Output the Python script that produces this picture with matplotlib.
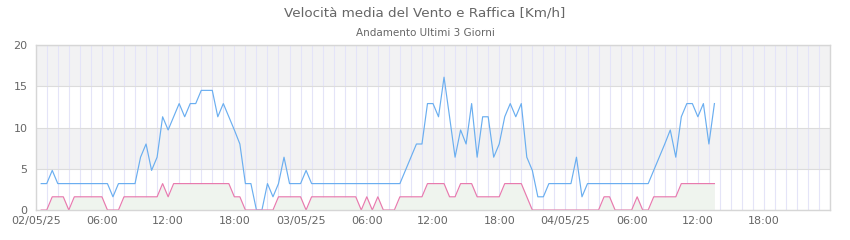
import matplotlib
matplotlib.use('Agg')
import matplotlib.pyplot as plt
import matplotlib.dates as mdates
import pandas as pd

# ========================== DATA ==========================
START = '2025-05-02 00:30'   # first sample, one every 30 minutes

# Raffica (gust) km/h
RAFFICA = [
    3.2, 3.2, 4.8, 3.2, 3.2, 3.2, 3.2, 3.2, 3.2, 3.2, 3.2, 3.2, 3.2, 1.6,
    3.2, 3.2, 3.2, 3.2, 6.4, 8.0, 4.8, 6.4, 11.3, 9.7, 11.3, 12.9, 11.3,
    12.9, 12.9, 14.5, 14.5, 14.5, 11.3, 12.9, 11.3, 9.7, 8.0, 3.2, 3.2,
    0.0, 0.0, 3.2, 1.6, 3.2, 6.4, 3.2, 3.2, 3.2, 4.8, 3.2,
    3.2, 3.2, 3.2, 3.2, 3.2, 3.2, 3.2, 3.2, 3.2, 3.2, 3.2, 3.2, 3.2, 3.2,
    3.2, 3.2,
    4.8, 6.4, 8.0, 8.0, 12.9, 12.9, 11.3, 16.1, 11.3, 6.4, 9.7, 8.0, 12.9,
    6.4, 11.3, 11.3, 6.4, 8.0, 11.3, 12.9, 11.3, 12.9, 6.4, 4.8, 1.6, 1.6,
    3.2, 3.2, 3.2, 3.2, 3.2, 6.4, 1.6,
    3.2, 3.2, 3.2, 3.2, 3.2, 3.2, 3.2, 3.2, 3.2, 3.2, 3.2, 3.2,
    4.8, 6.4, 8.0, 9.7, 6.4, 11.3, 12.9, 12.9, 11.3, 12.9, 8.0, 12.9,
]

# Velocita media km/h
MEDIA = [
    0.0, 0.0, 1.6, 1.6, 1.6, 0.0, 1.6, 1.6, 1.6, 1.6, 1.6, 1.6, 0.0, 0.0,
    0.0, 1.6, 1.6, 1.6, 1.6, 1.6, 1.6, 1.6, 3.2, 1.6, 3.2, 3.2, 3.2, 3.2,
    3.2, 3.2, 3.2, 3.2, 3.2, 3.2, 3.2, 1.6, 1.6, 0.0, 0.0, 0.0, 0.0, 0.0,
    0.0, 1.6, 1.6, 1.6, 1.6, 1.6, 0.0, 1.6, 1.6, 1.6, 1.6, 1.6, 1.6, 1.6,
    1.6, 1.6, 0.0, 1.6, 0.0, 1.6, 0.0, 0.0, 0.0, 1.6, 1.6, 1.6, 1.6, 1.6,
    3.2, 3.2, 3.2, 3.2, 1.6, 1.6, 3.2, 3.2, 3.2, 1.6, 1.6, 1.6, 1.6, 1.6,
    3.2, 3.2, 3.2, 3.2, 1.6, 0.0, 0.0, 0.0, 0.0, 0.0, 0.0, 0.0, 0.0, 0.0,
    0.0, 0.0, 0.0, 0.0, 1.6, 1.6, 0.0, 0.0, 0.0, 0.0, 1.6, 0.0, 0.0, 1.6,
    1.6, 1.6, 1.6, 1.6, 3.2, 3.2, 3.2, 3.2, 3.2, 3.2, 3.2,
]

TITLE = 'Velocità media del Vento e Raffica [Km/h]'
SUBTITLE = 'Andamento Ultimi 3 Giorni'

# ========================== STYLE ==========================
RAFFICA_COLOR = '#6aaef0'
MEDIA_COLOR = '#e87aae'
FILL_COLOR = '#eff4ee'
BAND_COLOR = '#f2f2f3'
HGRID_COLOR = '#dcdcdc'
VGRID_COLOR = '#e4e4f8'
TEXT_COLOR = '#666666'

times = pd.date_range(START, periods=len(RAFFICA), freq='30min')
major_ticks = pd.date_range('2025-05-02 00:00', '2025-05-04 18:00', freq='6h')

fig = plt.figure(figsize=(8.5, 2.4), dpi=100)
ax = fig.add_axes([35.7 / 850, 1 - 210 / 240, 794.6 / 850, 165 / 240])

# alternating background bands
for lo, hi in [(5, 10), (15, 20)]:
    ax.axhspan(lo, hi, color=BAND_COLOR, zorder=0, lw=0)

ax.fill_between(times, MEDIA, 0, color=FILL_COLOR, zorder=1, lw=0)
ax.plot(times, RAFFICA, color=RAFFICA_COLOR, lw=0.85, zorder=3)
ax.plot(times, MEDIA, color=MEDIA_COLOR, lw=0.85, zorder=3)

ax.set_xlim(pd.Timestamp('2025-05-02 00:00'), pd.Timestamp('2025-05-05 00:00'))
ax.set_ylim(0, 20)
ax.set_yticks([0, 5, 10, 15, 20])

ax.set_xticks(major_ticks)
ax.set_xticklabels([t.strftime('%d/%m/%y') if t.hour == 0 else t.strftime('%H:%M')
                    for t in major_ticks])
ax.xaxis.set_minor_locator(mdates.HourLocator())

ax.grid(axis='x', which='both', color=VGRID_COLOR, lw=0.8, zorder=0.5)
ax.grid(axis='y', which='major', color=HGRID_COLOR, lw=0.8, zorder=0.5)
ax.set_axisbelow(True)

ax.tick_params(which='both', length=0, colors=TEXT_COLOR, labelsize=8)
ax.tick_params(axis='x', pad=4)
ax.tick_params(axis='y', pad=6)
# spines on top so zero-valued stretches of the lines hide under the axis
for s in ax.spines.values():
    s.set_color('#d6d6d6')
    s.set_linewidth(1.0)
    s.set_zorder(5)

fig.text(0.5, 1 - 13 / 240, TITLE, ha='center', va='center', fontsize=9.7, color=TEXT_COLOR)
fig.text(0.5, 1 - 33 / 240, SUBTITLE, ha='center', va='center', fontsize=7.5, color=TEXT_COLOR)

fig.savefig('out.png', dpi=100, facecolor='white')
